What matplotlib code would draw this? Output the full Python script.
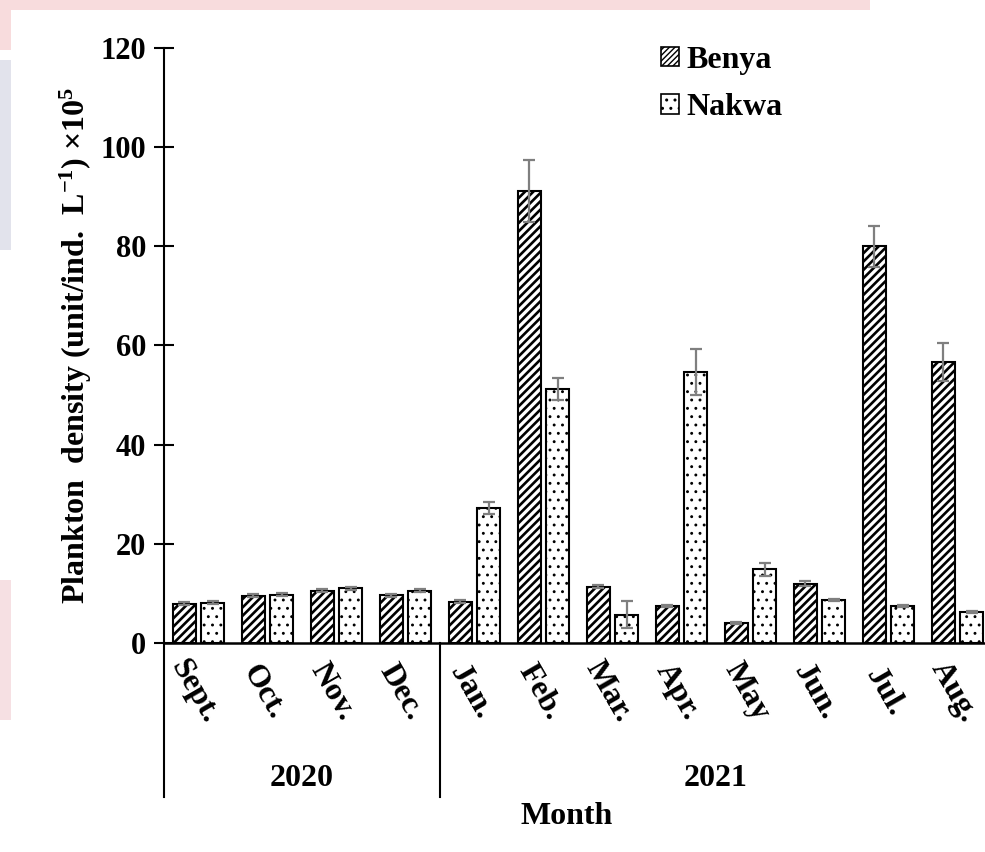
import matplotlib
matplotlib.use("Agg")
import matplotlib.pyplot as plt
import matplotlib.transforms as mtransforms
from matplotlib.patches import Patch, Rectangle
import numpy as np

# Monthly plankton density at the two sites
months = ['Sept.', 'Oct.', 'Nov.', 'Dec.', 'Jan.', 'Feb.', 'Mar.', 'Apr.', 'May', 'Jun.', 'Jul.', 'Aug.']
years = ['2020', '2021']
months_per_year = [4, 8]

benya = [7.9, 9.5, 10.5, 9.6, 8.3, 91.2, 11.3, 7.5, 4.0, 12.0, 80.0, 56.7]
benya_err = [0.3, 0.3, 0.3, 0.3, 0.3, 6.2, 0.3, 0.2, 0.2, 0.5, 4.2, 3.8]
nakwa = [8.1, 9.7, 11.0, 10.5, 27.3, 51.2, 5.7, 54.7, 14.9, 8.6, 7.5, 6.2]
nakwa_err = [0.3, 0.3, 0.3, 0.3, 1.2, 2.2, 2.7, 4.6, 1.3, 0.2, 0.2, 0.2]

plt.rcParams['font.family'] = 'Liberation Serif'
plt.rcParams['font.weight'] = 'bold'
plt.rcParams['mathtext.fontset'] = 'custom'
plt.rcParams['mathtext.rm'] = 'Liberation Serif:bold'
plt.rcParams['mathtext.it'] = 'Liberation Serif:bold'
plt.rcParams['mathtext.bf'] = 'Liberation Serif:bold'

FS = 23
STRIPE_LW = 1.9
DOT_LW = 0.9

fig = plt.figure(figsize=(9.85, 8.52), dpi=100)

# faint banner colour bleeding in along the top and left edges
fig.patches.append(Rectangle((0, 1 - 10 / 852), 870 / 985, 10 / 852, transform=fig.transFigure,
                             facecolor='#f8dcdd', edgecolor='none', zorder=0))
fig.patches.append(Rectangle((0, 1 - 50 / 852), 11 / 985, 50 / 852, transform=fig.transFigure,
                             facecolor='#f8dcdd', edgecolor='none', zorder=0))
fig.patches.append(Rectangle((0, 1 - 250 / 852), 11 / 985, 190 / 852, transform=fig.transFigure,
                             facecolor='#e2e3ec', edgecolor='none', zorder=0))
fig.patches.append(Rectangle((0, 1 - 720 / 852), 11 / 985, 140 / 852, transform=fig.transFigure,
                             facecolor='#f6e0e3', edgecolor='none', zorder=0))

# plot area runs slightly past the right edge of the figure
ax = fig.add_axes([164 / 985, 1 - 643 / 852, 828 / 985, 595 / 852])
ax.patch.set_alpha(0)

x = np.arange(len(months))
w = 0.34
off = 0.205
err_kw = dict(ecolor='#7f7f7f', elinewidth=1.6, capsize=4.5, capthick=1.6)


def hatched(patches, lw):
    for p in patches:
        if hasattr(p, 'set_hatch_linewidth'):
            p.set_hatch_linewidth(lw)


with plt.rc_context({'hatch.linewidth': STRIPE_LW}):
    b1 = ax.bar(x - off, benya, w, yerr=benya_err, facecolor='white', edgecolor='black',
                linewidth=1.5, hatch='////', error_kw=err_kw, zorder=2)
hatched(b1.patches, STRIPE_LW)
with plt.rc_context({'hatch.linewidth': DOT_LW}):
    b2 = ax.bar(x + off, nakwa, w, yerr=nakwa_err, facecolor='white', edgecolor='black',
                linewidth=1.5, hatch='..', error_kw=err_kw, zorder=2)
hatched(b2.patches, DOT_LW)

ax.set_xlim(-0.5, len(months) - 0.5)
ax.set_ylim(0, 120)
ax.set_yticks(np.arange(0, 121, 20))
ax.tick_params(axis='y', direction='inout', length=14, width=1.5, labelsize=22, pad=6)
ax.tick_params(axis='x', length=0, labelbottom=False)
for s in ['top', 'right']:
    ax.spines[s].set_visible(False)
ax.spines['left'].set_linewidth(1.5)
ax.spines['bottom'].set_linewidth(1.8)

ax.set_ylabel('Plankton  density (unit/ind.  L$^{-1}$) \u00d710$^{5}$', fontsize=FS, fontweight='bold')
ax.yaxis.set_label_coords(-0.085, 0.5)

# month labels and year groups under the axis
trans = mtransforms.blended_transform_factory(ax.transData, ax.transAxes)
for i, m in enumerate(months):
    ax.text(i - 0.06, -0.082, m, transform=trans, rotation=-60, ha='center', va='center',
            rotation_mode='anchor', fontsize=FS, fontweight='bold')

bounds = np.concatenate([[0], np.cumsum(months_per_year)]) - 0.5
for b in bounds:
    ax.plot([b, b], [0, -0.259], transform=trans, color='black', linewidth=1.5, clip_on=False)
for yr, lo, hi in zip(years, bounds[:-1], bounds[1:]):
    ax.text((lo + hi) / 2, -0.227, yr, transform=trans, ha='center', va='center',
            fontsize=FS, fontweight='bold')

fig.text(567 / 985, 1 - 817 / 852, 'Month', ha='center', va='center', fontsize=FS, fontweight='bold')

with plt.rc_context({'hatch.linewidth': 1.2}):
    handles = [Patch(facecolor='white', edgecolor='black', hatch='//////', linewidth=1.2),
               Patch(facecolor='white', edgecolor='black', hatch='..', linewidth=1.2)]
fig.legend(handles, ['Benya', 'Nakwa'], loc='upper left', bbox_to_anchor=(661 / 985, 1 - 46 / 852),
           frameon=False, handlelength=0.55, handleheight=0.55, handletextpad=0.25,
           labelspacing=0.57, borderaxespad=0, borderpad=0,
           prop={'size': FS, 'weight': 'bold'})

fig.savefig('out.png', dpi=100)
